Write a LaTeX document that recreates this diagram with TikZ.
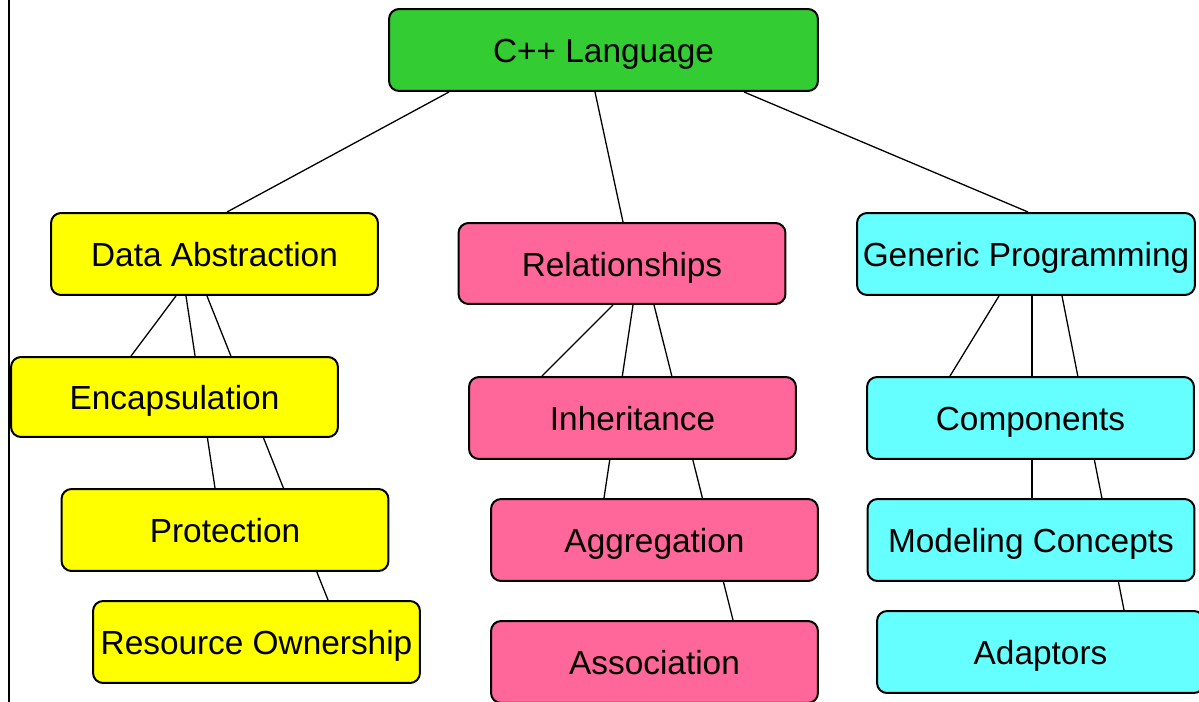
\documentclass[tikz,border=0pt]{standalone}
\usepackage{fontspec}
\setmainfont{Liberation Sans}
\usetikzlibrary{calc}
\usetikzlibrary{backgrounds}

\definecolor{langgreen}{RGB}{51,204,51}
\definecolor{dayellow}{RGB}{255,255,0}
\definecolor{relpink}{RGB}{255,102,153}
\definecolor{gencyan}{RGB}{102,255,255}

\tikzset{
    topic/.style = {draw, line width=0.04cm, rounded corners=0.2cm, inner sep=0pt,
                    minimum width=6.54cm, minimum height=1.64cm,
                    text height=15pt, text depth=0.4pt,
                    font=\fontsize{19}{22}\selectfont},
    link/.style  = {draw, line width=0.026cm}
}

\begin{document}
\begin{tikzpicture}[x=0.02cm, y=-0.02cm]

    \useasboundingbox (0,0) rectangle (1199,702);

    % left border
    \draw [line width=0.04cm] (9,0) -- (9,702);

    % root
    \node [topic, fill=langgreen, minimum width=8.58cm] (cpp) at (603.5,50) {C++ Language};

    % data abstraction branch
    \node [topic, fill=dayellow] (da)   at (214.5,254) {Data Abstraction};
    \node [topic, fill=dayellow, minimum height=1.6cm] (enc) at (174.5,397) {Encapsulation};
    \node [topic, fill=dayellow] (prot) at (225,530)   {Protection};
    \node [topic, fill=dayellow] (ro)   at (256.5,642) {Resource Ownership};

    % relationships branch
    \node [topic, fill=relpink, minimum height=1.62cm] (rel) at (622,263.5) {Relationships};
    \node [topic, fill=relpink] (inh)   at (632.5,418) {Inheritance};
    \node [topic, fill=relpink] (agg)   at (654.5,540) {Aggregation};
    \node [topic, fill=relpink] (assoc) at (654.5,662) {Association};

    % generic programming branch
    \node [topic, fill=gencyan, minimum width=6.76cm] (gp) at (1026,254) {Generic Programming};
    \node [topic, fill=gencyan] (comp)  at (1030.5,418) {Components};
    \node [topic, fill=gencyan] (mc)    at (1031,540)   {Modeling Concepts};
    \node [topic, fill=gencyan] (adapt) at (1040.5,652) {Adaptors};

    % connectors go behind the boxes
    \begin{pgfonlayer}{background}
        \draw [link] ($(cpp.south)+(-154.5,0)$) -- ($(da.north)+(12.5,0)$);
        \draw [link] ($(cpp.south)+(-8.5,0)$)   -- ($(rel.north)+(1,0)$);
        \draw [link] ($(cpp.south)+(140.5,0)$)  -- ($(gp.north)+(2,0)$);

        \draw [link] ($(da.south)+(-38.5,0)$) -- ($(enc.north)+(-43.5,0)$);
        \draw [link] ($(da.south)+(-28.5,0)$) -- ($(prot.north)+(-10,0)$);
        \draw [link] ($(da.south)+(-7.5,0)$)  -- ($(ro.north)+(71.5,0)$);

        \draw [link] ($(rel.south)+(-9,0)$) -- ($(inh.north)+(-90.5,0)$);
        \draw [link] ($(rel.south)+(11,0)$) -- ($(agg.north)+(-50.5,0)$);
        \draw [link] ($(rel.south)+(32,0)$) -- ($(assoc.north)+(78.5,0)$);

        \draw [link] ($(gp.south)+(-27,0)$) -- ($(comp.north)+(-80.5,0)$);
        \draw [link] ($(gp.south)+(6,0)$)   -- ($(mc.north)+(1,0)$);
        \draw [link] ($(gp.south)+(36,0)$)  -- ($(adapt.north)+(83.5,0)$);
    \end{pgfonlayer}

\end{tikzpicture}
\end{document}
